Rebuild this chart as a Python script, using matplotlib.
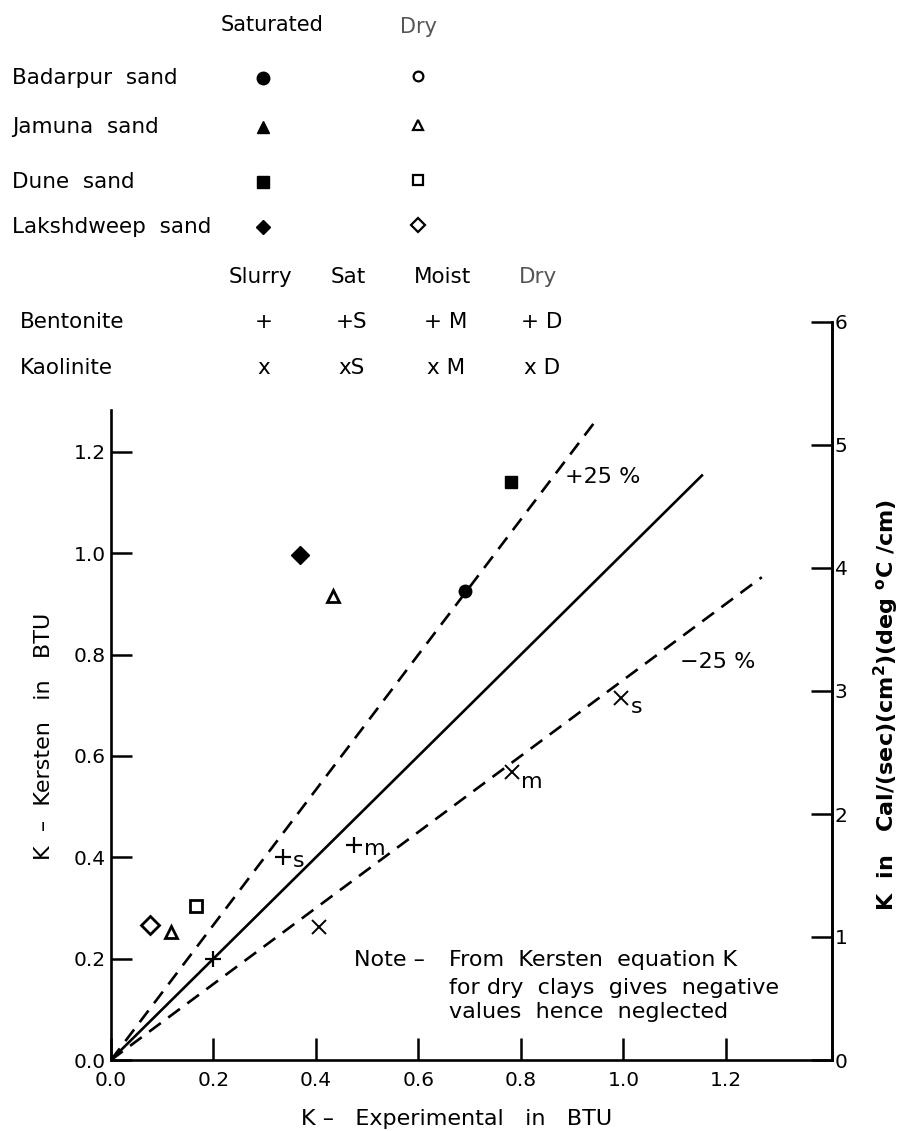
import matplotlib
matplotlib.use("Agg")
import matplotlib.pyplot as plt
from matplotlib.lines import Line2D
import numpy as np

plt.rcParams['font.family'] = ['DejaVu Sans']

# --- legend (symbol key) ---
sand_names = ["Badarpur  sand", "Jamuna  sand", "Dune  sand", "Lakshdweep  sand"]
sand_markers = ["o", "^", "s", "D"]
clay_names = ["Bentonite", "Kaolinite"]
clay_states = ["Slurry", "Sat", "Moist", "Dry"]
clay_codes = [["+", "+S", "+ M", "+ D"], ["x", "xS", "x M", "x D"]]

# --- data points (K experimental, K Kersten) in BTU ---
sat_x = [0.69, 0.78, 0.369]
sat_y = [0.925, 1.14, 0.997]
sat_mk = ["o", "s", "D"]
dry_x = [0.433, 0.076, 0.117, 0.166]
dry_y = [0.915, 0.266, 0.252, 0.303]
dry_mk = ["^", "D", "^", "s"]

bent_x = [0.2, 0.335, 0.475]
bent_y = [0.2, 0.40, 0.424]
bent_lab = ["", "s", "m"]
kaol_x = [0.405, 0.782, 0.995]
kaol_y = [0.262, 0.568, 0.715]
kaol_lab = ["", "m", "s"]

# reference lines: exact and +/-25 %
line_ends = [1.155, 0.95, 1.27]
line_slopes = [1.0, 1 / 0.75, 0.75]

fig = plt.figure(figsize=(9, 11.31), dpi=100)
W, H = 900, 1131


def fx(px):
    return px / W


def fy(py):
    return 1 - py / H


fs = 15.5
fig.text(fx(272), fy(25), "Saturated", fontsize=15, ha="center", va="center")
fig.text(fx(418), fy(27), "Dry", fontsize=15, ha="center", va="center", color="#555555")
rows_y = [78, 127, 182, 227]
for name, mk, yy in zip(sand_names, sand_markers, rows_y):
    fig.text(fx(12), fy(yy), name, fontsize=fs, ha="left", va="center")
    fig.add_artist(Line2D([fx(263)], [fy(yy)], marker=mk, ms=7.5 if mk == "D" else 9,
                          color="black", transform=fig.transFigure))
    fig.add_artist(Line2D([fx(418)], [fy(yy - 2)], marker=mk, ms=7, mfc="white",
                          mec="black", mew=1.6, transform=fig.transFigure))

state_x = [260, 348, 442, 538]
for st, xx in zip(clay_states, state_x):
    fig.text(fx(xx), fy(277), st, fontsize=fs, ha="center", va="center",
             color="#555555" if st == "Dry" else "black")
for name, codes, yy in zip(clay_names, clay_codes, [322, 368]):
    fig.text(fx(20), fy(yy), name, fontsize=fs, ha="left", va="center")
    for c, xx in zip(codes, state_x):
        fig.text(fx(xx + 4), fy(yy), c, fontsize=fs, ha="center", va="center")

# --- main axes ---
x0, x1 = 111, 832
y0, y1 = 1060, 322
ax = fig.add_axes([fx(x0), fy(y0), (x1 - x0) / W, (y0 - y1) / H])
ax.set_xlim(0, 1.407)
ax.set_ylim(0, 1.456)

for k, (end, m) in enumerate(zip(line_ends, line_slopes)):
    xs = np.array([0, end])
    if k == 0:
        ax.plot(xs, m * xs, color="black", lw=1.9, solid_capstyle="butt")
    else:
        ax.plot(xs, m * xs, color="black", lw=1.9, dashes=(5.5, 3.5))

for x, y, mk in zip(sat_x, sat_y, sat_mk):
    ax.plot(x, y, marker=mk, ms=9, color="black", ls="none")
for x, y, mk in zip(dry_x, dry_y, dry_mk):
    ax.plot(x, y, marker=mk, ms=9, mfc="white", mec="black", mew=2.0, ls="none")

for x, y, lab in zip(bent_x, bent_y, bent_lab):
    ax.plot(x, y, marker="+", ms=12, mew=1.6, color="black", ls="none")
    if lab:
        ax.annotate(lab, (x, y), xytext=(7, -3), textcoords="offset points",
                    fontsize=16, va="center", ha="left")
for x, y, lab in zip(kaol_x, kaol_y, kaol_lab):
    ax.plot(x, y, marker="x", ms=10, mew=1.4, color="black", ls="none")
    if lab:
        ax.annotate(lab, (x, y), xytext=(7, -7), textcoords="offset points",
                    fontsize=16, va="center", ha="left")

ax.text(0.885, 1.15, "+25 %", fontsize=16, ha="left", va="center")
ax.text(1.11, 0.785, "\u221225 %", fontsize=16, ha="left", va="center")
ax.text(0.474, 0.197, "Note \u2013", fontsize=16, ha="left", va="center")
note_lines = ["From  Kersten  equation K", "for dry  clays  gives  negative",
              "values  hence  neglected"]
for line, yy in zip(note_lines, [0.197, 0.142, 0.095]):
    ax.text(0.66, yy, line, fontsize=16, ha="left", va="center")

ax.spines["top"].set_visible(False)
for sp in ["left", "right", "bottom"]:
    ax.spines[sp].set_linewidth(1.9)
ax.spines["left"].set_bounds(0, 1.283)

ticks = np.arange(0, 1.21, 0.2)
tick_labels = ["0.0", "0.2", "0.4", "0.6", "0.8", "1.0", "1.2"]
ax.set_xticks(ticks)
ax.set_xticklabels(tick_labels)
ax.set_yticks(ticks)
ax.set_yticklabels(tick_labels)
ax.tick_params(axis="both", direction="in", length=15, width=1.8, labelsize=14.5, pad=4)
ax.tick_params(axis="x", length=16, pad=8)

ax2 = ax.twinx()
ax2.set_ylim(0, 6.0)
ax2.set_yticks(range(0, 7))
ax2.tick_params(axis="y", direction="in", length=15, width=1.8, labelsize=14.5, pad=2)
for sp in ["top", "left", "bottom"]:
    ax2.spines[sp].set_visible(False)
ax2.spines["right"].set_linewidth(1.9)

fig.text(fx(457), fy(1119), "K \u2013   Experimental   in   BTU", fontsize=16,
         ha="center", va="center")
fig.text(fx(44), fy(736), "K  \u2013  Kersten   in   BTU", fontsize=16, rotation=90,
         ha="center", va="center")
fig.text(fx(886), fy(705), r"K  in   Cal/(sec)(cm$^{\mathbf{2}}$)(deg $^{\mathbf{o}}$C /cm)",
         fontsize=16, rotation=90, ha="center", va="center", fontweight="bold")

fig.savefig("out.png", dpi=100)
